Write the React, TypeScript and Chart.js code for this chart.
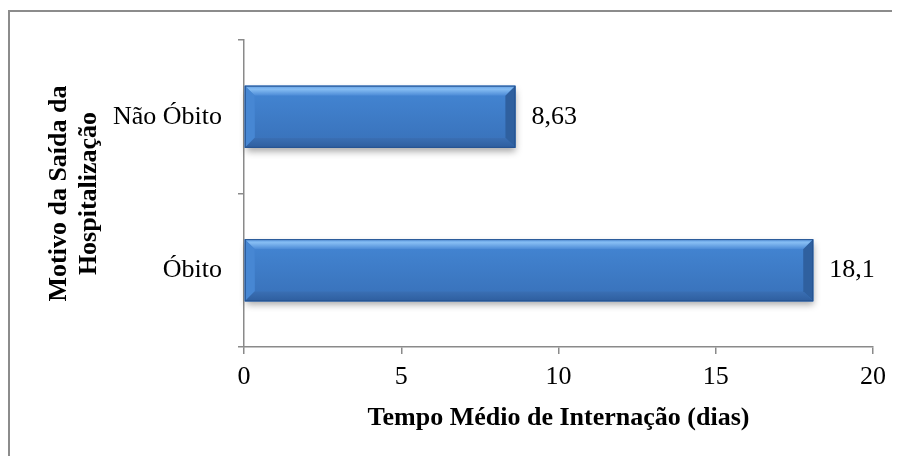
import React, { useEffect, useRef } from "react";
import { Chart, registerables } from "chart.js";

Chart.register(...registerables);

const categories = ["Não Óbito", "Óbito"];
const values = [8.63, 18.1];
const xTicks = [0, 5, 10, 15, 20];
const xTitle = "Tempo Médio de Internação (dias)";
const yTitle = ["Motivo da Saída da", "Hospitalização"];

const FONT = '"Liberation Serif", "Times New Roman", serif';
const AXIS = "#8a8a8a";

function barRect(bar: any) {
  const p = bar.getProps(["x", "y", "base", "height"], true);
  const l = Math.min(p.base, p.x);
  const r = Math.max(p.base, p.x);
  const t = p.y - p.height / 2;
  const b = p.y + p.height / 2;
  return { l, r, t, b, y: p.y };
}

function poly(ctx: CanvasRenderingContext2D, pts: number[][], fill: any) {
  ctx.beginPath();
  ctx.moveTo(pts[0][0], pts[0][1]);
  for (let i = 1; i < pts.length; i++) ctx.lineTo(pts[i][0], pts[i][1]);
  ctx.closePath();
  ctx.fillStyle = fill;
  ctx.fill();
}

const framePlugin = {
  id: "frame",
  beforeDraw(chart: any) {
    const ctx = chart.ctx;
    ctx.save();
    ctx.strokeStyle = "#8c8c8c";
    ctx.lineWidth = 2;
    ctx.beginPath();
    ctx.moveTo(1, chart.height);
    ctx.lineTo(1, 3);
    ctx.lineTo(chart.width, 3);
    ctx.stroke();
    ctx.restore();
  },
  beforeDatasetsDraw(chart: any) {
    const ctx = chart.ctx;
    const meta = chart.getDatasetMeta(0);
    ctx.save();
    meta.data.forEach((bar: any) => {
      const { l, r, t, b } = barRect(bar);
      ctx.shadowColor = "rgba(0,0,0,0.35)";
      ctx.shadowBlur = 7;
      ctx.shadowOffsetX = 1;
      ctx.shadowOffsetY = 4;
      ctx.fillStyle = "#3d7cc9";
      ctx.fillRect(l, t, r - l, b - t);
    });
    ctx.restore();
  },
  afterDatasetsDraw(chart: any) {
    const ctx = chart.ctx;
    const meta = chart.getDatasetMeta(0);
    const d = 10;
    ctx.save();
    meta.data.forEach((bar: any, i: number) => {
      const { l, r, t, b, y } = barRect(bar);
      const fg = ctx.createLinearGradient(0, t + d, 0, b - d);
      fg.addColorStop(0, "#4283d0");
      fg.addColorStop(1, "#3a74bd");
      poly(ctx, [[l + d, t + d], [r - d, t + d], [r - d, b - d], [l + d, b - d]], fg);
      const tg = ctx.createLinearGradient(0, t, 0, t + d);
      tg.addColorStop(0, "#5d9be2");
      tg.addColorStop(0.35, "#86bdf3");
      tg.addColorStop(1, "#4b8ad6");
      poly(ctx, [[l, t], [r, t], [r - d, t + d], [l + d, t + d]], tg);
      poly(ctx, [[l, t], [l + d, t + d], [l + d, b - d], [l, b]], "#4787d3");
      const bg = ctx.createLinearGradient(0, b - d, 0, b);
      bg.addColorStop(0, "#3a6fb4");
      bg.addColorStop(1, "#2e5e9e");
      poly(ctx, [[l, b], [r, b], [r - d, b - d], [l + d, b - d]], bg);
      poly(ctx, [[r, t], [r - d, t + d], [r - d, b - d], [r, b]], "#2f609f");
      ctx.strokeStyle = "#24528f";
      ctx.lineWidth = 1;
      ctx.strokeRect(l + 0.5, t + 0.5, r - l - 1, b - t - 1);
      ctx.fillStyle = "#000";
      ctx.font = `26px ${FONT}`;
      ctx.textAlign = "left";
      ctx.textBaseline = "middle";
      ctx.fillText(String(values[i]).replace(".", ","), r + 16, y);
    });
    ctx.restore();
  },
};

export default function App() {
  const ref = useRef<HTMLCanvasElement | null>(null);
  useEffect(() => {
    document.body.style.overflow = "hidden";
    if (!ref.current) return;
    const chart = new Chart(ref.current, {
      type: "bar",
      data: {
        labels: categories,
        datasets: [
          {
            data: values,
            backgroundColor: "#3d7cc9",
            borderWidth: 0,
            barPercentage: 0.405,
            categoryPercentage: 1,
          },
        ],
      },
      options: {
        indexAxis: "y",
        responsive: false,
        animation: false,
        layout: { padding: { top: 32, right: 27, bottom: 0, left: 0 } },
        plugins: { legend: { display: false }, tooltip: { enabled: false } },
        scales: {
          x: {
            min: 0,
            max: 20,
            afterBuildTicks: (s: any) => {
              s.ticks = xTicks.map((v) => ({ value: v }));
            },
            afterFit: (s: any) => {
              s.height = 109;
            },
            grid: {
              drawOnChartArea: false,
              drawTicks: true,
              tickLength: 7,
              color: AXIS,
              lineWidth: 1.5,
            },
            border: { color: AXIS, width: 1.5 },
            ticks: {
              color: "#000",
              padding: 8,
              font: { family: FONT, size: 26 },
            },
            title: {
              display: true,
              text: xTitle,
              color: "#000",
              font: { family: FONT, size: 26, weight: "bold", lineHeight: 1.2 },
              padding: { top: 4, bottom: 22 },
            },
          },
          y: {
            afterFit: (s: any) => {
              s.width = 236;
            },
            grid: {
              drawOnChartArea: false,
              drawTicks: true,
              tickLength: 6,
              color: AXIS,
              lineWidth: 1.5,
              offset: true,
            },
            border: { color: AXIS, width: 1.5 },
            ticks: {
              color: "#000",
              padding: 16,
              font: { family: FONT, size: 26 },
            },
            title: {
              display: true,
              text: yTitle,
              color: "#000",
              font: { family: FONT, size: 26, weight: "bold", lineHeight: 1.15 },
              padding: { top: 36, bottom: 0 },
            },
          },
        },
      },
      plugins: [framePlugin],
    } as any);
    return () => chart.destroy();
  }, []);
  return (
    <canvas
      ref={ref}
      width={892}
      height={448}
      style={{ display: "block", width: 892, height: 448 }}
    />
  );
}
